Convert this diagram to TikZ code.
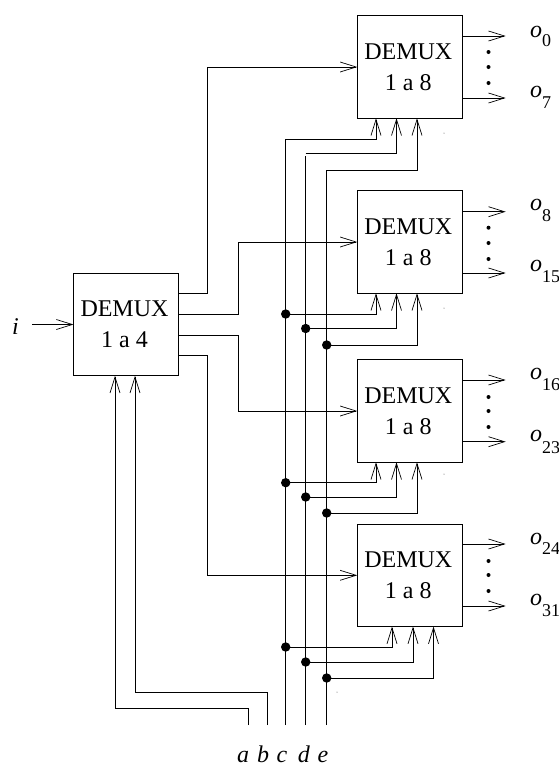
\documentclass[tikz,border=0pt]{standalone}
\usepackage{fontspec}
\setmainfont{Liberation Serif}
\usetikzlibrary{arrows.meta}
\newcommand{\dmxtext}[1]{\makebox[0pt]{\hspace{-3pt}\raisebox{8pt}[0pt][0pt]{DEMUX}}\makebox[0pt]{\hspace{-3pt}\raisebox{-23pt}[0pt][0pt]{1 a #1}}}
\newcommand{\olabel}[2]{\textit{o}\raisebox{-#2pt}{\fontsize{18}{18}\selectfont #1}}
\tikzset{
  demux/.style={draw,line width=0.85pt,minimum width=105pt,minimum height=102.6pt,inner sep=0pt,outer sep=0pt},
  wire/.style={line width=0.85pt},
  ar/.style={wire,-{Straight Barb[length=16pt,width=10pt,line width=0.7pt]}},
  jn/.style={circle,fill=black,inner sep=0pt,minimum size=9.4pt},
  pt/.style={circle,fill=black,inner sep=0pt,minimum size=4pt},
  speck/.style={circle,fill=black!70,inner sep=0pt,minimum size=1pt},
  olab/.style={anchor=base west,inner sep=0pt},
  bus/.style={anchor=base,inner sep=0pt}
}
\begin{document}
\begin{tikzpicture}[x=1pt,y=-1pt,every node/.append style={font=\fontsize{24}{24}\selectfont}]
\useasboundingbox (0,0) rectangle (559,764);
\fill[white] (0,0) rectangle (559,764);
% boxes
\node[demux] (m) at (126,324.5) {\dmxtext{4}};
\node[demux] (b1) at (409.8,67) {\dmxtext{8}};
\node[demux] (b2) at (409.8,242) {\dmxtext{8}};
\node[demux] (b3) at (409.8,411) {\dmxtext{8}};
\node[demux] (b4) at (409.8,575.3) {\dmxtext{8}};
% input
\node[anchor=base,inner sep=0pt] (i) at (15.5,334) {\textit{i}};
\coordinate (iin) at (32,324.5);
\draw[ar] (iin) -- (m.west);
% first-stage outputs
\draw[ar] (m.east |- 0,293.5) -- (207,293.5) |- (b1.west);
\draw[ar] (m.east |- 0,314) -- (238,314) |- (b2.west);
\draw[ar] (m.east |- 0,335) -- (238,335) |- (b3.west);
\draw[ar] (m.east |- 0,355.5) -- (207,355.5) |- (b4.west);
% a, b
\coordinate (aend) at (248,725);
\coordinate (bend) at (267,725);
\draw[ar] (aend) |- (115,708.7) -- (m.south -| 115,0);
\draw[ar] (bend) |- (135,692) -- (m.south -| 135,0);
% c, d, e buses
\coordinate (cend) at (285.7,725);
\coordinate (dend) at (305.7,725);
\coordinate (eend) at (326.7,725);
\coordinate (dtop) at (305.7,156);
\coordinate (dcorner) at (305.7,153.5);
\draw[ar] (cend) |- (376,139) -- (b1.south -| 376,0);
\draw[wire] (dend) -- (dtop);
\draw[ar] (dcorner) -- (396.5,153.5) -- (b1.south -| 396.5,0);
\draw[ar] (eend) |- (417,170) -- (b1.south -| 417,0);
% junctions
\foreach \k/\yc/\yd/\ye in {2/314/328.5/345, 3/482.7/497/513, 4/647/662/678}{
  \node[jn] (c\k) at (285.7,\yc) {};
  \node[jn] (d\k) at (305.7,\yd) {};
  \node[jn] (e\k) at (326.7,\ye) {};
}
\draw[ar] (c2.center) -| (b2.south -| 376,0);
\draw[ar] (d2.center) -| (b2.south -| 396.5,0);
\draw[ar] (e2.center) -| (b2.south -| 417,0);
\draw[ar] (c3.center) -| (b3.south -| 376,0);
\draw[ar] (d3.center) -| (b3.south -| 396.5,0);
\draw[ar] (e3.center) -| (b3.south -| 417,0);
\draw[ar] (c4.center) -| (b4.south -| 392,0);
\draw[ar] (d4.center) -| (b4.south -| 413,0);
\draw[ar] (e4.center) -| (b4.south -| 433.5,0);
% outputs
\foreach \b/\ya/\yb/\yc/\yd/\ye in {b1/36/98/52/67/83, b2/211.7/273/227.7/243/259, b3/380/441.7/397/411/427, b4/544/606/561/575/591}{
  \coordinate (o1\b) at (505.7,\ya);
  \coordinate (o2\b) at (505.7,\yb);
  \draw[ar] (\b.east |- o1\b) -- (o1\b);
  \draw[ar] (\b.east |- o2\b) -- (o2\b);
  \node[pt] at (488.5,\yc) {};
  \node[pt] at (488.5,\yd) {};
  \node[pt] at (488.5,\ye) {};
}
\node[olab] (o0) at (530,37) {\olabel{0}{9}};
\node[olab] (o7) at (530,97) {\olabel{7}{11}};
\node[olab] (o8) at (530,210) {\olabel{8}{11.5}};
\node[olab] (o15) at (530,271) {\olabel{15}{11.5}};
\node[olab] (o16) at (530,379) {\olabel{16}{11}};
\node[olab] (o23) at (530,441) {\olabel{23}{12}};
\node[olab] (o24) at (530,544) {\olabel{24}{10}};
\node[olab] (o31) at (530,605) {\olabel{31}{11.5}};
% bus labels
\node[bus] (la) at (243,762) {\textit{a}};
\node[bus] (lb) at (263,762) {\textit{b}};
\node[bus] (lc) at (282,762) {\textit{c}};
\node[bus] (ld) at (304,762) {\textit{d}};
\node[bus] (le) at (323,762) {\textit{e}};
% specks
\node[speck] at (444,133) {};
\node[speck] at (444,308) {};
\node[speck] at (444,474) {};
\node[speck] at (337,692) {};
\end{tikzpicture}
\end{document}
